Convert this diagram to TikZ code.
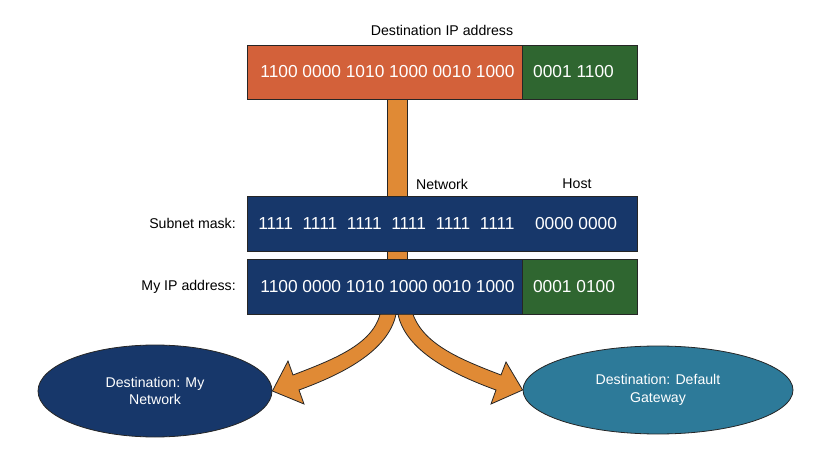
\documentclass[tikz,border=0pt]{standalone}
\usepackage{fontspec}
\setmainfont{Liberation Sans}
\usetikzlibrary{shapes.geometric}
\definecolor{cOrange}{HTML}{D3613A}
\definecolor{cGreen}{HTML}{2F6630}
\definecolor{cNavy}{HTML}{17376A}
\definecolor{cTeal}{HTML}{2D7A99}
\definecolor{cArrow}{HTML}{E08A35}
\begin{document}
\begin{tikzpicture}[x=0.75pt,y=-0.75pt,
  boxtxt/.style={text=white,font=\fontsize{13}{15}\selectfont},
  lbl/.style={text=black,font=\fontsize{10.6}{13}\selectfont},
  bitbox/.style={draw=black!85,line width=0.6pt,inner sep=0pt,rectangle},
  blockarrow/.style={fill=cArrow,draw=black!85,line width=0.6pt,line join=miter},
  dest/.style={ellipse,draw=black!85,line width=0.6pt,inner sep=0pt,text=white,align=center,font=\fontsize{10.6}{13}\selectfont}]
\useasboundingbox (0,0) rectangle (829,449);
% vertical bar (behind boxes)
\node[blockarrow,rectangle,minimum width=15pt,minimum height=120.75pt,inner sep=0pt] (bar) at (397,179.5) {};
% top destination address
\node[lbl] (title) at (442,30) {Destination IP address};
\node[bitbox,fill=cOrange,minimum width=206.25pt,minimum height=40.5pt] (dnet) at (384.5,72) {};
\node[bitbox,fill=cGreen,minimum width=86.25pt,minimum height=40.5pt] (dhost) at (579.5,72) {};
\node[boxtxt] (dnett) at (387.5,72) {1100 0000 1010 1000 0010 1000};
\node[boxtxt] (dhostt) at (573.5,72) {0001 1100};
% labels
\node[lbl] (netl) at (442,184) {Network};
\node[lbl] (hostl) at (577,184) {Host};
% subnet mask
\node[bitbox,fill=cNavy,minimum width=292.5pt,minimum height=41.25pt] (mask) at (442,223.5) {};
\node[boxtxt] (masknet) at (386.5,223.5) {1111\ \ 1111\ \ 1111\ \ 1111\ \ 1111\ \ 1111};
\node[boxtxt] (maskhost) at (576,223.5) {0000 0000};
\node[lbl,anchor=east,inner sep=0pt] (maskl) at (236,223.5) {Subnet mask:};
% my ip
\node[bitbox,fill=cNavy,minimum width=206.25pt,minimum height=41.25pt] (mnet) at (384.5,286.5) {};
\node[bitbox,fill=cGreen,minimum width=86.25pt,minimum height=41.25pt] (mhost) at (579.5,286.5) {};
\node[boxtxt] (mnett) at (387.5,286.5) {1100 0000 1010 1000 0010 1000};
\node[boxtxt] (mhostt) at (574,286.5) {0001 0100};
\node[lbl,anchor=east,inner sep=0pt] (myl) at (236,286.5) {My IP address:};
% destinations
\node[dest,fill=cNavy,minimum width=175.5pt,minimum height=69pt] (dmy) at (155,391) {Destination: My\\Network};
\node[dest,fill=cTeal,minimum width=202.5pt,minimum height=66pt] (dgw) at (658,390) {Destination: Default\\Gateway};
% curved block arrows
\draw[blockarrow] (380,314.3) .. controls (372,345) and (332,360) .. (293,375)
  -- (288,361) -- (dmy.east) -- (304,404) -- (299,390)
  .. controls (340,375) and (388,352) .. (396,314.3) -- cycle;
\draw[blockarrow] (413,314.3) .. controls (424,345) and (462,360) .. (501,375)
  -- (506,362) -- (dgw.west) -- (491,404) -- (496,390)
  .. controls (455,375) and (406,352) .. (398,314.3) -- cycle;
\end{tikzpicture}
\end{document}
